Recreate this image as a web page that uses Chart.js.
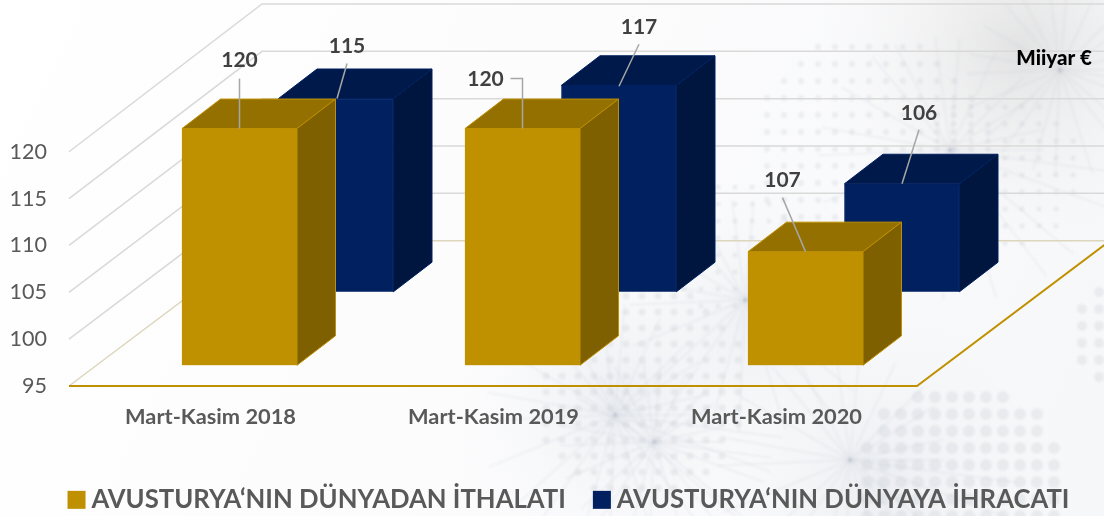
<!DOCTYPE html>
<html><head><meta charset="utf-8">
<style>html,body{margin:0;padding:0;background:#fff}canvas{display:block}</style>
<script src="https://cdn.jsdelivr.net/npm/chart.js@4"></script>
</head><body><canvas id="c" width="1104" height="516"></canvas>
<script>
// DATA
const categories = ['Mart-Kasim 2018', 'Mart-Kasim 2019', 'Mart-Kasim 2020'];
const importValues = [120, 120, 107];
const exportValues = [115.4, 116.8, 106.4];
const yTickValues = [95, 100, 105, 110, 115, 120];
const importName = 'AVUSTURYA‘NIN DÜNYADAN İTHALATI';
const exportName = 'AVUSTURYA‘NIN DÜNYAYA İHRACATI';
const unitLabel = 'Miiyar €';

// LAYOUT / STYLE
const FONT = 'Lato';
const PX_PER_UNIT = 9.47, AXIS_PX_PER_UNIT = 9.37, PLOT_H = 386, PLOT_W = 849, CAT_W = 283;
const DEPTH_X = 38.5, DEPTH_Y = 29.5;
const WALL_X = 193, WALL_FLOOR_PX = 240.7, IMPORT_FLOOR_PX = 365.3, EXPORT_FLOOR_PX = 291.7;
const yRange = (floorPx) => { const min = 95 - (PLOT_H - floorPx) / PX_PER_UNIT; return {min, max: min + PLOT_H / PX_PER_UNIT}; };
const xRange = (firstCenterPx) => { const min = -(firstCenterPx - 69) / CAT_W; return {min, max: min + PLOT_W / CAT_W}; };
const styles = [
  {front:'#BF9000', side:'#7F6000', top:'#937000', edge:'#BF9000'},
  {front:'#002060', side:'#00163F', top:'#00194B', edge:'#002060'}
];
// leader-line label placement, relative to the top-centre of each bar
const callouts = [
  [{dx:0,dy:-68,path:[[0,-50],[0,0]]},{dx:-37,dy:-49,path:[[-12,-50],[0,-50],[0,0]]},{dx:-23,dy:-71,path:[[-23,-54],[0,0]]}],
  [{dx:11,dy:-52,path:[[11,-35],[1,0]]},{dx:20,dy:-58,path:[[20,-41],[0,1]]},{dx:17,dy:-71,path:[[17,-54],[0,0]]}]
];

const backdrop = {
  id:'backdrop',
  beforeDraw(chart){
    const c = chart.ctx; c.save();
    const base = c.createLinearGradient(0,0,1104,516);
    base.addColorStop(0,'#ffffff'); base.addColorStop(.45,'#fcfcfd'); base.addColorStop(1,'#f6f7f9');
    c.fillStyle = base; c.fillRect(0,0,1104,516);
    const blobs = [[1020,50,240,'rgba(214,214,214,.65)'],[620,400,190,'rgba(214,218,226,.4)'],[760,320,170,'rgba(214,218,226,.35)'],[880,480,220,'rgba(214,218,226,.35)']];
    blobs.forEach(([x,y,r,col])=>{const g=c.createRadialGradient(x,y,0,x,y,r);g.addColorStop(0,col);g.addColorStop(1,'rgba(255,255,255,0)');c.fillStyle=g;c.fillRect(x-r,y-r,2*r,2*r);});
    c.filter='blur(1px)';
    const hubs = [[615,415,170],[654,442,120],[745,300,150],[850,460,170],[950,150,170],[1060,70,120]];
    c.lineWidth = 2; c.strokeStyle='rgba(195,200,210,.16)';
    hubs.forEach(([x,y,r])=>{
      for(let k=0;k<22;k++){const a=k*2.39996, l=r*(.55+.45*((k*.618)%1));
        c.beginPath();c.moveTo(x,y);c.lineTo(x+Math.cos(a)*l,y+Math.sin(a)*l);c.stroke();}
    });
    const dots = [[640,390,110,16,3.5],[870,150,120,17,3],[1000,170,80,17,2.6],[1125,335,60,17,5],[960,490,110,17,6],[720,240,70,17,2.5]];
    c.fillStyle='rgba(190,195,205,.24)';
    dots.forEach(([x,y,r,s,d])=>{
      for(let i=-r;i<=r;i+=s)for(let j=-r;j<=r;j+=s){ if(i*i+j*j>r*r)continue;
        c.beginPath();c.arc(x+i,y+j,d,0,7);c.fill();}
    });
    c.filter='none';
    c.restore();
  }
};

const walls = {
  id:'walls',
  afterLayout(chart){ chart.scales.y.left = 0; },
  beforeDatasetsDraw(chart){
    const c = chart.ctx, ys = chart.scales.y, yi = chart.scales.yImp;
    const left = chart.chartArea.left, backShift = IMPORT_FLOOR_PX - WALL_FLOOR_PX;
    c.save(); c.lineCap='butt'; c.lineJoin='miter';
    yTickValues.forEach((v,i)=>{
      const y = ys.getPixelForValue(v), by = yi.getPixelForValue(v) - backShift;
      c.strokeStyle = i===0 ? '#DED5BD' : '#D9D9D9';
      c.lineWidth = 1.5;
      c.beginPath(); c.moveTo(left,y); c.lineTo(left+WALL_X,by); c.lineTo(1104,by); c.stroke();
    });
    const y0 = ys.getPixelForValue(95), rx = chart.chartArea.right;
    c.strokeStyle='#BF9000'; c.lineWidth=2;
    c.beginPath(); c.moveTo(left,y0); c.lineTo(rx-1,y0); c.lineTo(rx-1+WALL_X,WALL_FLOOR_PX); c.stroke();
    // unit
    c.fillStyle='#000'; c.font='900 20.5px '+FONT; c.textAlign='right'; c.textBaseline='middle';
    c.fillText(unitLabel,1092,58);
    c.restore();
  }
};

const box3d = {
  id:'box3d',
  afterDatasetDraw(chart,args){
    const c = chart.ctx, st = styles[args.index];
    c.save(); c.lineWidth=1; c.strokeStyle=st.edge; c.lineJoin='round';
    args.meta.data.forEach(bar=>{
      const {x,y,base,width} = bar.getProps(['x','y','base','width'],true);
      const l=x-width/2, r=x+width/2;
      const poly=(pts,fill)=>{c.beginPath();pts.forEach((p,i)=>i?c.lineTo(p[0],p[1]):c.moveTo(p[0],p[1]));c.closePath();c.fillStyle=fill;c.fill();c.stroke();};
      poly([[l,y],[r,y],[r+DEPTH_X,y-DEPTH_Y],[l+DEPTH_X,y-DEPTH_Y]],st.top);
      poly([[r,y],[r+DEPTH_X,y-DEPTH_Y],[r+DEPTH_X,base-DEPTH_Y],[r,base]],st.side);
    });
    c.restore();
  },
  afterDatasetsDraw(chart){
    const c = chart.ctx;
    c.save();
    [1,0].forEach(ds=>{
      const meta = chart.getDatasetMeta(ds), raw = ds===0?importValues:exportValues;
      meta.data.forEach((bar,i)=>{
        const {x,y} = bar.getProps(['x','y'],true), o = callouts[ds][i];
        c.strokeStyle='#A6A6A6'; c.lineWidth=1.5;
        c.beginPath(); o.path.forEach((p,k)=>k?c.lineTo(x+p[0],y+p[1]):c.moveTo(x+p[0],y+p[1])); c.stroke();
        c.fillStyle='#404040'; c.font='bold 21px '+FONT; c.textAlign='center'; c.textBaseline='middle';
        c.fillText(String(Math.round(raw[i])),x+o.dx,y+o.dy);
      });
    });
    c.restore();
  }
};

const toPoints = vals => vals.map((v,i)=>({x:i,y:v}));
const hiddenX = (cx)=>Object.assign({type:'linear',axis:'x',display:false,offset:false},xRange(cx));
const hiddenY = (fy)=>Object.assign({type:'linear',axis:'y',display:false},yRange(fy));

new Chart(document.getElementById('c'),{
  type:'bar',
  data:{
    labels:categories,
    datasets:[
      {label:importName,data:toPoints(importValues),backgroundColor:styles[0].front,borderColor:styles[0].edge,borderWidth:1,
       xAxisID:'xImp',yAxisID:'yImp',base:95,barThickness:115,grouped:false,clip:false},
      {label:exportName,data:toPoints(exportValues),backgroundColor:styles[1].front,borderColor:styles[1].edge,borderWidth:1,
       xAxisID:'xExp',yAxisID:'yExp',base:95,barThickness:115,grouped:false,clip:false}
    ]
  },
  plugins:[backdrop,walls,box3d],
  options:{
    responsive:false,animation:false,
    layout:{padding:{left:40,right:0,top:0,bottom:0}},
    plugins:{
      tooltip:{enabled:false},
      legend:{position:'bottom',maxHeight:63,
        labels:{font:{family:FONT,size:25.7,weight:'bold'},color:'#595959',boxWidth:4,boxHeight:4,padding:34,
          generateLabels(chart){
            return Chart.defaults.plugins.legend.labels.generateLabels(chart).map(it=>Object.assign(it,{lineWidth:14,strokeStyle:it.fillStyle}));
          }}}
    },
    scales:{
      x:{type:'category',axis:'x',position:'bottom',offset:true,
        grid:{display:false},border:{display:false},
        ticks:{font:{family:FONT,size:21.8,weight:'bold'},color:'#595959',padding:10,maxRotation:0,autoSkip:false},
        afterFit(s){s.height=67;s.paddingLeft=0;s.paddingRight=0;}},
      y:{type:'linear',axis:'y',position:'left',min:95,max:95+PLOT_H/AXIS_PX_PER_UNIT,
        grid:{display:false},border:{display:false},
        afterBuildTicks(s){s.ticks=yTickValues.map(value=>({value}));},
        ticks:{font:{family:FONT,size:21.5},color:'#595959',padding:14,callback:v=>String(v)},
        afterFit(s){s.width=29;s.paddingTop=0;s.paddingBottom=0;}},
      spacer:{type:'linear',axis:'y',position:'right',min:0,max:1,
        grid:{display:false},border:{display:false},ticks:{display:false},
        afterFit(s){s.width=186;s.paddingTop=0;s.paddingBottom=0;}},
      xImp:hiddenX(239.5),
      xExp:hiddenX(336),
      yImp:hiddenY(IMPORT_FLOOR_PX),
      yExp:hiddenY(EXPORT_FLOOR_PX)
    }
  }
});
</script></body></html>
